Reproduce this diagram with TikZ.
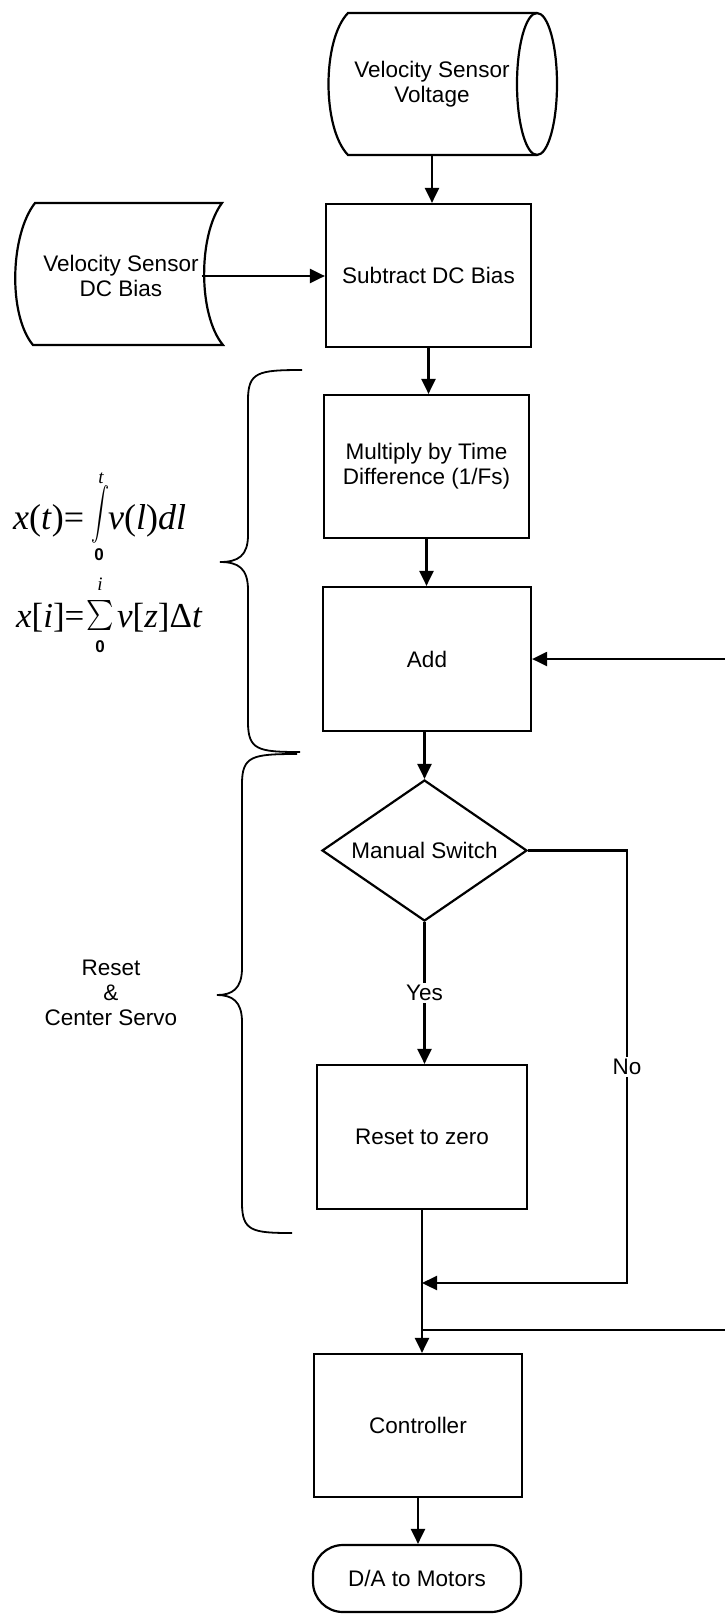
\documentclass[tikz,border=0pt]{standalone}
\usepackage{fontspec}
\setmainfont{Liberation Sans}
\newfontfamily\tms{Liberation Serif}
\usetikzlibrary{arrows.meta,shapes.geometric}
\begin{document}
\begin{tikzpicture}[x=1pt,y=-1pt, line width=2.2pt,
  font=\fontsize{22.5}{25}\selectfont,
  arr/.style={-{Triangle[length=15pt,width=14pt]}},
  procbox/.style={draw, rectangle, align=center, inner sep=0pt, minimum width=207pt, minimum height=143pt},
  lbl/.style={fill=white, inner sep=2pt},
  brace/.style={line width=1.8pt},
  eq/.style={inner sep=0pt, font=\tms\fontsize{36}{36}\selectfont},
  lim/.style={inner sep=0pt, font=\bfseries\fontsize{17}{17}\selectfont},
  limi/.style={inner sep=0pt, font=\tms\itshape\fontsize{19}{19}\selectfont}]
\useasboundingbox (0,0) rectangle (725,1615);

% --- top storage (cylinder) ---
\draw (537,13) -- (348,13) .. controls (322,40) and (322,128) .. (348,155) -- (537,155);
\draw (537,84) ellipse [x radius=20pt, y radius=71pt];
\node[minimum width=190pt, minimum height=142pt, inner sep=0pt, align=center] (vsv) at (432,84) {Velocity Sensor\\Voltage};

% --- stored data: DC bias ---
\draw (35,203) -- (222,203) .. controls (198,235) and (198,315) .. (223,345) -- (33,345) .. controls (8,315) and (10,235) .. (35,203) -- cycle;
\node[align=center, inner sep=2pt] (dcb) at (121,276) {Velocity Sensor\\DC Bias};

% --- process boxes ---
\node[procbox, minimum width=205pt] (sub) at (428.5,275.5) {Subtract DC Bias};
\node[procbox, minimum width=205pt] (mul) at (426.5,466.5) {Multiply by Time\\Difference (1/Fs)};
\node[procbox, minimum width=208pt, minimum height=144pt] (add) at (427,659) {Add};
\node[draw, diamond, aspect=1.45, inner sep=0pt, minimum width=205pt, minimum height=141pt] (dia) at (424.5,850.5) {Manual Switch};
\node[procbox, minimum width=210pt, minimum height=144pt] (rst) at (422,1137) {Reset to zero};
\node[procbox, minimum width=208pt] (ctl) at (418,1425.5) {Controller};
\node[draw, rectangle, rounded corners=30pt, minimum width=208pt, minimum height=67pt, inner sep=0pt] (dam) at (417,1578.5) {D/A to Motors};

% --- connectors ---
\draw[arr] (vsv.south) -- (vsv.south |- sub.north);
\draw[arr] (dcb.east) -- (dcb.east -| sub.west);
\draw[arr] (sub.south) -- (sub.south |- mul.north);
\draw[arr] (mul.south) -- (mul.south |- add.north);
\draw[arr] (add.south -| dia.north) -- (dia.north);
\draw[arr] (dia.south) -- node[lbl]{Yes} (dia.south |- rst.north);
\coordinate (nob) at (627,1283);
\draw[arr] (dia.east) -| node[lbl, pos=0.75]{No} (nob) -- (nob -| rst.south);
\draw[arr] (rst.south) -- (rst.south |- ctl.north);
\coordinate (j) at (rst.south |- 0,1330);
\coordinate (rb) at (725,1330);
\draw (j) -- (rb);
\coordinate (ra) at (725,659);
\draw[arr] (ra) -- (add.east);
\draw[arr] (ctl.south) -- (ctl.south |- dam.north);

% --- braces ---
\draw[brace] (302,370) .. controls (258,370) and (248,372) .. (248,400) -- (248,535) .. controls (248,556) and (238,562) .. (220,562) .. controls (238,562) and (248,568) .. (248,590) -- (248,722) .. controls (248,750) and (258,752) .. (300,752);
\draw[brace] (297,754) .. controls (252,754) and (242,756) .. (242,784) -- (242,968) .. controls (242,989) and (232,995) .. (217,995) .. controls (232,995) and (242,1001) .. (242,1022) -- (242,1203) .. controls (242,1231) and (252,1233) .. (292,1233);

% --- equation 1: x(t) = integral ---
\node[eq, anchor=base west] (ea1) at (12,529) {\textit{x}(\textit{t})=};
\node[inner sep=0pt] (eint) at (100,514) {\scalebox{1.8}[2.6]{$\displaystyle\int$}};
\node[limi] (eat) at (101,478) {t};
\node[lim] (ea0) at (99,555) {0};
\node[eq, anchor=base west] (ea2) at (107,529) {\textit{v}(\textit{l})\textit{dl}};

% --- equation 2: x[i] = sum ---
\node[eq, anchor=base west, font=\tms\fontsize{35}{35}\selectfont] (eb1) at (15,627) {\textit{x}[\textit{i}]=};
\node[inner sep=0pt] (esum) at (100,616) {\scalebox{2.6}[3.0]{$\textstyle\sum$}};
\node[limi] (ebi) at (100,584) {i};
\node[lim] (eb0) at (100,647) {0};
\node[eq, anchor=base west, font=\tms\fontsize{35}{35}\selectfont] (eb2) at (116,627) {\textit{v}[\textit{z}]Δ\textit{t}};

% --- side label ---
\node[align=center] (rcs) at (111,993) {Reset\\\&\\Center Servo};
\end{tikzpicture}
\end{document}
